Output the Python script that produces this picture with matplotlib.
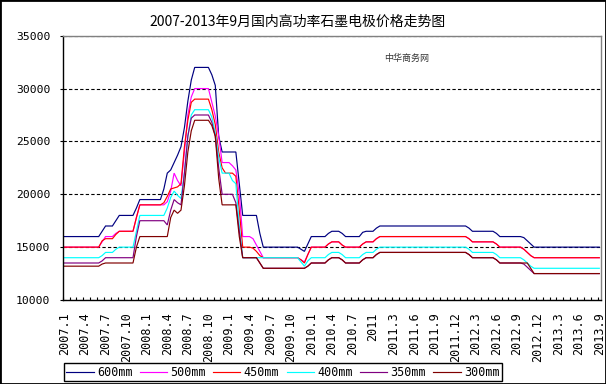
import matplotlib
matplotlib.use('Agg')
import matplotlib.pyplot as plt
import numpy as np
from matplotlib.patches import Rectangle

title = '2007-2013年9月国内高功率石墨电极价格走势图'
watermark = '中华商务网'
series_names = ['600mm', '500mm', '450mm', '400mm', '350mm', '300mm']
series_colors = ['#000080', '#FF00FF', '#FF0000', '#00FFFF', '#800080', '#800000']
tick_labels = ['2007.1', '2007.4', '2007.7', '2007.10', '2008.1', '2008.4', '2008.7',
               '2008.10', '2009.1', '2009.4', '2009.7', '2009.10', '2010.1', '2010.4',
               '2010.7', '2011', '2011.3', '2011.6', '2011.9', '2011.12', '2012.3',
               '2012.6', '2012.9', '2012.12', '2013.3', '2013.6', '2013.9']
label_step = 6  # semi-monthly data points, labels every 3 months

p600 = [
    16000, 16000, 16000, 16000, 16000, 16000, 16000, 16000, 16000, 16000, 16000,
    16500, 17000, 17000, 17000, 17500, 18000, 18000, 18000, 18000, 18000, 18700,
    19500, 19500, 19500, 19500, 19500, 19500, 19500,
    20500, 22000, 22300, 23000, 23700, 24500, 26300, 28800, 30800,
    32000, 32000, 32000, 32000, 32000, 31300, 30300, 25500,
    24000, 24000, 24000, 24000, 24000, 21000,
    18000, 18000, 18000, 18000, 18000, 16300,
    15000, 15000, 15000, 15000, 15000, 15000, 15000, 15000, 15000, 15000, 15000,
    14800, 14600, 15300,
    16000, 16000, 16000, 16000, 16000, 16300, 16500, 16500, 16500, 16300,
    16000, 16000, 16000, 16000, 16000, 16400, 16500, 16500, 16500, 16800,
    17000, 17000, 17000, 17000, 17000, 17000, 17000, 17000, 17000, 17000, 17000, 17000, 17000,
    17000, 17000, 17000, 17000, 17000, 17000, 17000, 17000, 17000, 17000, 17000, 17000, 17000,
    16800, 16500, 16500, 16500, 16500, 16500, 16500, 16500, 16300,
    16000, 16000, 16000, 16000, 16000, 16000, 16000, 15900, 15600, 15300,
    15000, 15000, 15000, 15000, 15000, 15000, 15000, 15000, 15000, 15000,
    15000, 15000, 15000, 15000, 15000, 15000, 15000, 15000, 15000, 15000,
]

p500 = [
    15000, 15000, 15000, 15000, 15000, 15000, 15000, 15000, 15000, 15000, 15000,
    15500, 16000, 16000, 16000, 16300, 16500, 16500, 16500, 16500, 16500, 17800,
    19000, 19000, 19000, 19000, 19000, 19000, 19000,
    19000, 19300, 20300, 22000, 21300, 20800, 24000, 27500, 29200,
    30000, 30000, 30000, 30000, 30000, 28700, 27400, 25500,
    23000, 23000, 23000, 22700, 22300, 20000,
    16000, 16000, 16000, 15800, 15200, 14600,
    14000, 14000, 14000, 14000, 14000, 14000, 14000, 14000, 14000, 14000, 14000,
    13800, 13600, 14300,
    15000, 15000, 15000, 15000, 15000, 15300, 15500, 15500, 15500, 15200,
    15000, 15000, 15000, 15000, 15000, 15300, 15500, 15500, 15500, 15800,
    16000, 16000, 16000, 16000, 16000, 16000, 16000, 16000, 16000, 16000, 16000, 16000, 16000,
    16000, 16000, 16000, 16000, 16000, 16000, 16000, 16000, 16000, 16000, 16000, 16000, 16000,
    15800, 15500, 15500, 15500, 15500, 15500, 15500, 15500, 15300,
    15000, 15000, 15000, 15000, 15000, 15000, 15000, 14800, 14500, 14200,
    14000, 14000, 14000, 14000, 14000, 14000, 14000, 14000, 14000, 14000,
    14000, 14000, 14000, 14000, 14000, 14000, 14000, 14000, 14000, 14000,
]

p450 = [
    15000, 15000, 15000, 15000, 15000, 15000, 15000, 15000, 15000, 15000, 15000,
    15600, 15800, 15800, 15800, 16200, 16500, 16500, 16500, 16500, 16500, 17800,
    19000, 19000, 19000, 19000, 19000, 19000, 19000,
    19200, 19800, 20500, 20600, 20700, 21000, 24500, 27000, 28700,
    29000, 29000, 29000, 29000, 29000, 28000, 26600, 24000,
    22500, 22000, 22000, 22000, 21700, 18500,
    15000, 15000, 15000, 14900, 14600, 14200,
    14000, 14000, 14000, 14000, 14000, 14000, 14000, 14000, 14000, 14000, 14000,
    13800, 13500, 14300,
    15000, 15000, 15000, 15000, 15000, 15300, 15500, 15500, 15500, 15200,
    15000, 15000, 15000, 15000, 15000, 15300, 15500, 15500, 15500, 15800,
    16000, 16000, 16000, 16000, 16000, 16000, 16000, 16000, 16000, 16000, 16000, 16000, 16000,
    16000, 16000, 16000, 16000, 16000, 16000, 16000, 16000, 16000, 16000, 16000, 16000, 16000,
    15800, 15500, 15500, 15500, 15500, 15500, 15500, 15500, 15300,
    15000, 15000, 15000, 15000, 15000, 15000, 15000, 14800, 14500, 14200,
    14000, 14000, 14000, 14000, 14000, 14000, 14000, 14000, 14000, 14000,
    14000, 14000, 14000, 14000, 14000, 14000, 14000, 14000, 14000, 14000,
]

p400 = [
    14000, 14000, 14000, 14000, 14000, 14000, 14000, 14000, 14000, 14000, 14000,
    14200, 14500, 14500, 14500, 14800, 15000, 15000, 15000, 15000, 15000, 16500,
    18000, 18000, 18000, 18000, 18000, 18000, 18000, 18000,
    18700, 19700, 20300, 19900, 19600, 22000, 25500, 27500,
    28000, 28000, 28000, 28000, 28000, 27300, 25800, 23500,
    22000, 22000, 22000, 21300, 21000, 17000,
    14000, 14000, 14000, 14000, 14000, 14000, 14000, 14000, 14000,
    14000, 14000, 14000, 14000, 14000, 14000, 14000, 14000,
    13600, 13200, 13700,
    14000, 14000, 14000, 14000, 14000, 14300, 14500, 14500, 14500, 14300,
    14000, 14000, 14000, 14000, 14000, 14300, 14500, 14500, 14500, 14800,
    15000, 15000, 15000, 15000, 15000, 15000, 15000, 15000, 15000, 15000, 15000, 15000, 15000,
    15000, 15000, 15000, 15000, 15000, 15000, 15000, 15000, 15000, 15000, 15000, 15000, 15000,
    14800, 14500, 14500, 14500, 14500, 14500, 14500, 14500, 14300,
    14000, 14000, 14000, 14000, 14000, 14000, 14000, 13800, 13500, 13200,
    13000, 13000, 13000, 13000, 13000, 13000, 13000, 13000, 13000, 13000,
    13000, 13000, 13000, 13000, 13000, 13000, 13000, 13000, 13000, 13000,
]

p350 = [
    13500, 13500, 13500, 13500, 13500, 13500, 13500, 13500, 13500, 13500, 13500,
    13700, 14000, 14000, 14000, 14000, 14000, 14000, 14000, 14000, 14000, 16000,
    17500, 17500, 17500, 17500, 17500, 17500, 17500, 17500,
    17100, 18500, 19500, 19200, 19000, 22000, 25500, 27200,
    27500, 27500, 27500, 27500, 27500, 26800, 25500, 22500,
    20000, 20000, 20000, 20000, 19200, 16500,
    14000, 14000, 14000, 14000, 14000, 13500,
    13000, 13000, 13000, 13000, 13000, 13000, 13000, 13000, 13000, 13000, 13000,
    13000, 13000, 13200,
    13500, 13500, 13500, 13500, 13500, 13800, 14000, 14000, 14000, 13800,
    13500, 13500, 13500, 13500, 13500, 13800, 14000, 14000, 14000, 14300,
    14500, 14500, 14500, 14500, 14500, 14500, 14500, 14500, 14500, 14500, 14500, 14500, 14500,
    14500, 14500, 14500, 14500, 14500, 14500, 14500, 14500, 14500, 14500, 14500, 14500, 14500,
    14300, 14000, 14000, 14000, 14000, 14000, 14000, 14000, 13800,
    13500, 13500, 13500, 13500, 13500, 13500, 13500, 13400, 13100, 12800,
    12500, 12500, 12500, 12500, 12500, 12500, 12500, 12500, 12500, 12500,
    12500, 12500, 12500, 12500, 12500, 12500, 12500, 12500, 12500, 12500,
]

p300 = [
    13200, 13200, 13200, 13200, 13200, 13200, 13200, 13200, 13200, 13200, 13200,
    13400, 13500, 13500, 13500, 13500, 13500, 13500, 13500, 13500, 13500, 15000,
    16000, 16000, 16000, 16000, 16000, 16000, 16000, 16000, 16000,
    17800, 18500, 18200, 18500, 20800, 24000, 26000,
    27000, 27000, 27000, 27000, 27000, 26500, 25500, 21500,
    19000, 19000, 19000, 19000, 19000, 16000,
    14000, 14000, 14000, 14000, 14000, 13500,
    13000, 13000, 13000, 13000, 13000, 13000, 13000, 13000, 13000, 13000, 13000,
    13000, 13000, 13200,
    13500, 13500, 13500, 13500, 13500, 13800, 14000, 14000, 14000, 13800,
    13500, 13500, 13500, 13500, 13500, 13800, 14000, 14000, 14000, 14300,
    14500, 14500, 14500, 14500, 14500, 14500, 14500, 14500, 14500, 14500, 14500, 14500, 14500,
    14500, 14500, 14500, 14500, 14500, 14500, 14500, 14500, 14500, 14500, 14500, 14500, 14500,
    14300, 14000, 14000, 14000, 14000, 14000, 14000, 14000, 13800,
    13500, 13500, 13500, 13500, 13500, 13500, 13500, 13500, 13500, 13000,
    12500, 12500, 12500, 12500, 12500, 12500, 12500, 12500, 12500, 12500,
    12500, 12500, 12500, 12500, 12500, 12500, 12500, 12500, 12500, 12500,
]

all_series = [p600, p500, p450, p400, p350, p300]

W, H = 606, 384
fig = plt.figure(figsize=(W / 100, H / 100), dpi=100)
fig.patch.set_facecolor('white')

left, right, top, bottom = 62.7, 601.0, 35.7, 300.0
ax = fig.add_axes([left / W, 1 - bottom / H, (right - left) / W, (bottom - top) / H])

n = len(p600)
handles = []
for name, vals, col in zip(series_names, all_series, series_colors):
    h, = ax.plot(np.arange(len(vals)), vals, color=col, lw=0.85, label=name,
                 solid_joinstyle='miter')
    handles.append(h)

ax.set_xlim(-0.5, n - 0.5)
ax.set_ylim(10000, 35000)
ax.set_yticks(np.arange(10000, 35001, 5000))
ax.yaxis.grid(True, color='black', linestyle=(0, (3.0, 2.0)), lw=0.8)
ax.set_axisbelow(True)

ax.set_xticks(np.arange(0, n, label_step))
ax.set_xticklabels(tick_labels, rotation=90, fontfamily='DejaVu Sans Mono', fontsize=8.5)
ax.set_xticks(np.arange(-0.5, n - 1, 2), minor=True)
ax.tick_params(axis='x', which='major', length=0, pad=9)
ax.tick_params(axis='x', which='minor', direction='in', length=2.2, width=0.8)
ax.tick_params(axis='y', direction='out', length=2, width=0.8, pad=7, labelsize=8.2)
for lab in ax.get_yticklabels():
    lab.set_fontfamily('DejaVu Sans Mono')

for s in ['left', 'bottom']:
    ax.spines[s].set_color('black')
    ax.spines[s].set_linewidth(1.0)
for s in ['top', 'right']:
    ax.spines[s].set_color('#808080')
    ax.spines[s].set_linewidth(1.0)

fig.text(298 / W, 1 - 22 / H, title, ha='center', va='center', fontsize=10,
         family=['Noto Sans CJK SC', 'DejaVu Sans'])
fig.text(407 / W, 1 - 58 / H, watermark, ha='center', va='center', fontsize=6.5,
         family=['Noto Sans CJK SC', 'DejaVu Sans'], color='#333333')

leg = fig.legend(handles, series_names, ncol=6, loc='lower left',
                 bbox_to_anchor=(64 / W, 3 / H), frameon=True, fancybox=False,
                 edgecolor='black', framealpha=1,
                 prop={'family': 'DejaVu Sans Mono', 'size': 8.5},
                 handlelength=2.3, handletextpad=0.3, columnspacing=0.6,
                 borderpad=0.2, borderaxespad=0)
leg.get_frame().set_linewidth(1.0)

fig.patches.append(Rectangle((0, 0), 1, 1, transform=fig.transFigure, fill=False,
                             edgecolor='black', lw=2.0))

fig.savefig('out.png', dpi=100)
